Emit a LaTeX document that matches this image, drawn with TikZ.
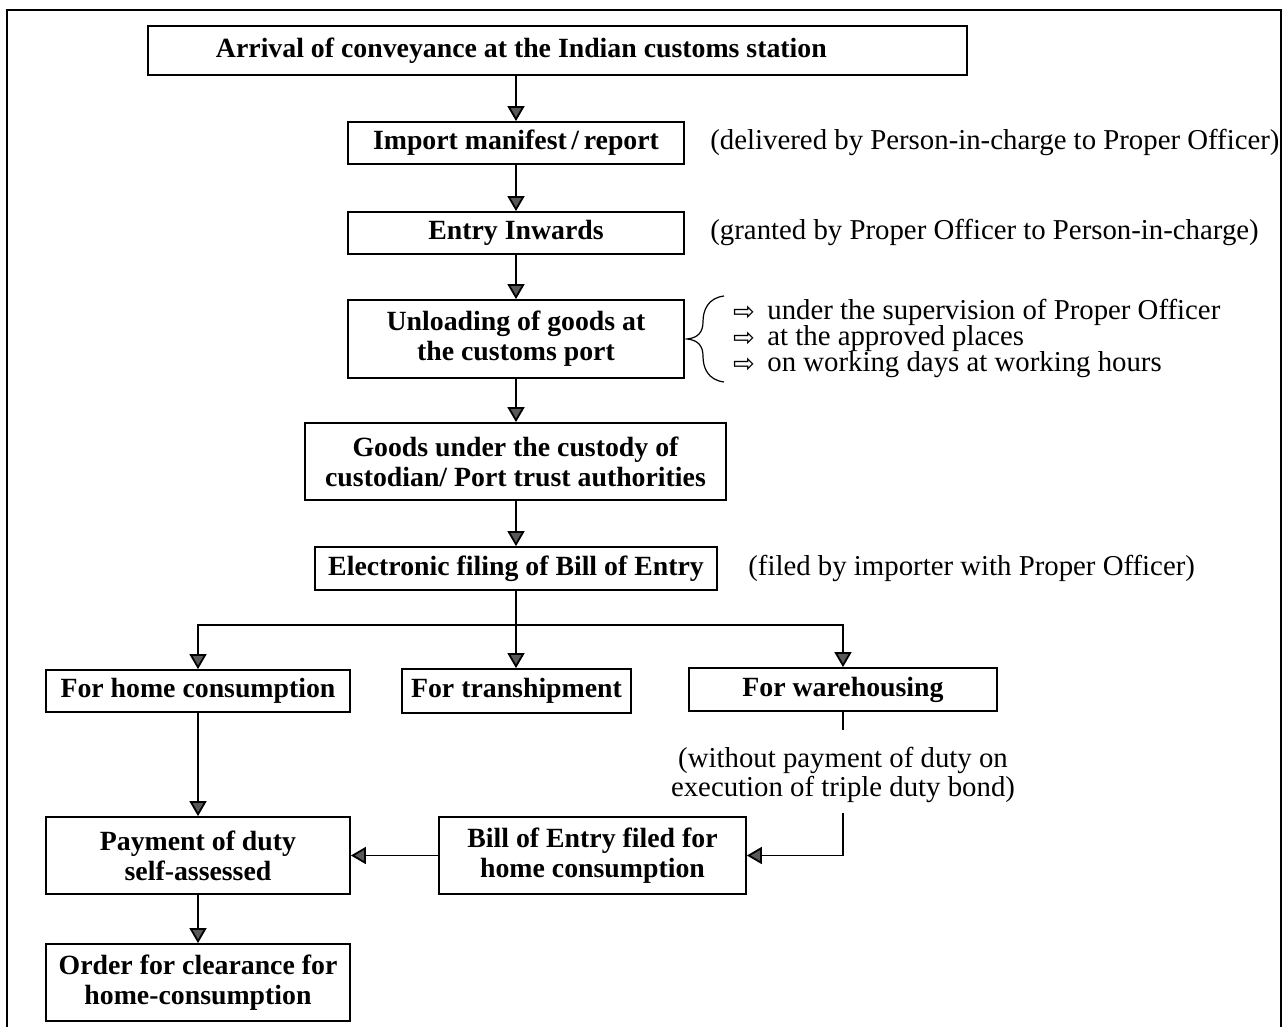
\documentclass[tikz,border=0pt]{standalone}
\usepackage{fontspec}
\setmainfont{Liberation Serif}
\newfontfamily\symfont{DejaVu Sans}
\usetikzlibrary{arrows.meta}

\begin{document}
\begin{tikzpicture}[x=0.5pt,y=-0.5pt,
  box/.style={draw=black, line width=0.9pt, align=center, inner sep=2pt,
    font=\fontsize{13.9}{15}\selectfont\bfseries},
  note/.style={align=center, inner sep=0pt, font=\fontsize{14.4}{13}\selectfont},
  side/.style={anchor=west, inner sep=0pt, text height=10pt, text depth=3pt,
    font=\fontsize{14.4}{16}\selectfont},
  bullet/.style={inner sep=0pt, text height=8pt, text depth=0pt,
    font=\symfont\fontsize{13}{13}\selectfont},
  link/.style={line width=0.9pt},
  arr/.style={link, -{Triangle[length=7.5pt,width=8.5pt,fill=black!65]}},
  frame/.style={line width=1.2pt},
]
\useasboundingbox (0,0) rectangle (1287,1027);

% outer frame (open at the bottom)
\draw[frame] (7,1035) -- (7,10) -- (1281,10) -- (1281,1035);

% main column
\node[box, inner xsep=0pt, minimum width=409.5pt, minimum height=24.5pt] (arrival) at (557.5,50.5)
  {\makebox[409.5pt][l]{\hspace{34pt}Arrival of conveyance at the Indian customs station}};
\node[box, minimum width=168pt, minimum height=21pt] (manifest) at (516,143)
  {Import manifest\,/\,report};
\node[box, minimum width=168pt, minimum height=21pt] (inwards) at (516,233)
  {Entry Inwards};
\node[box, minimum width=168pt, minimum height=39pt] (unload) at (516,339)
  {Unloading of goods at\\the customs port};
\node[box, minimum width=210.5pt, minimum height=38.5pt] (custody) at (515.5,461.5)
  {Goods under the custody of\\custodian/ Port trust authorities};
\node[box, minimum width=201pt, minimum height=21.5pt] (efile) at (516,568.5)
  {Electronic filing of Bill of Entry};

% branches
\node[box, minimum width=152pt, minimum height=21pt] (home) at (198,691)
  {For home consumption};
\node[box, minimum width=114.5pt, minimum height=22pt] (tranship) at (516.5,691)
  {For transhipment};
\node[box, minimum width=154pt, minimum height=21.5pt] (ware) at (843,689.5)
  {For warehousing};
\node[box, minimum width=152pt, minimum height=38.5pt] (pay) at (198,855.5)
  {Payment of duty\\self-assessed};
\node[box, minimum width=153.5pt, minimum height=38.5pt] (bill) at (592.5,855.5)
  {Bill of Entry filed for\\home consumption};
\node[box, minimum width=152pt, minimum height=38.5pt] (order) at (198,982.5)
  {Order for clearance for\\home-consumption};

% side remarks
\node[side] (deliv) at (710,143) {(delivered by Person-in-charge to Proper Officer)};
\node[side] (grant) at (710,233) {(granted by Proper Officer to Person-in-charge)};
\node[side] (filed) at (748,568.5) {(filed by importer with Proper Officer)};
\node[note] (wnote) at (843,775) {(without payment of duty on\\execution of triple duty bond)};

% conditions of unloading
\draw[line width=0.6pt] (724,296) .. controls (708,298) and (703,310) .. (703,322)
  .. controls (703,332) and (698,338) .. (687,339)
  .. controls (698,340) and (703,346) .. (703,356)
  .. controls (703,368) and (708,380) .. (724,382);
\node[bullet] (m1) at (744,313) {⇨};
\node[bullet] (m2) at (744,339) {⇨};
\node[bullet] (m3) at (744,365) {⇨};
\node[side] (c1) at (767,313) {under the supervision of Proper Officer};
\node[side] (c2) at (767,339) {at the approved places};
\node[side] (c3) at (767,365) {on working days at working hours};

% connectors
\coordinate (split) at (516,625);
\coordinate (wtop) at (843,730);
\coordinate (wbot) at (843,813);

\draw[arr] (manifest.north |- arrival.south) -- (manifest.north);
\draw[arr] (manifest) -- (inwards);
\draw[arr] (inwards) -- (unload);
\draw[arr] (unload.south) -- (unload.south |- custody.north);
\draw[arr] (custody.south -| efile.north) -- (efile.north);
\draw[link] (efile.south) -- (split);
\draw[arr] (split) -- (split |- tranship.north);
\draw[arr] (split) -| (home.north);
\draw[arr] (split) -| (ware.north);
\draw[link] (ware.south) -- (wtop);
\draw[arr] (wbot) |- (bill.east);
\draw[arr] (bill.west) -- (pay.east);
\draw[arr] (home) -- (pay);
\draw[arr] (pay) -- (order);
\end{tikzpicture}
\end{document}
